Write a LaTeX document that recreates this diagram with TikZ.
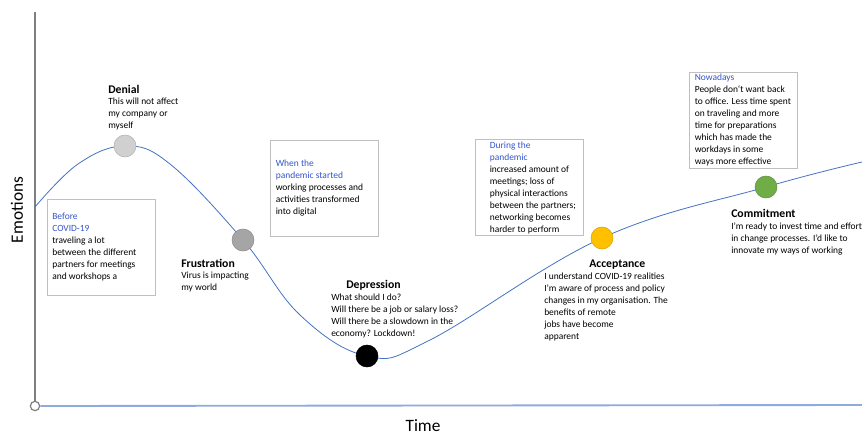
\documentclass[tikz,border=0pt]{standalone}
\usepackage{fontspec}
\setmainfont{Carlito}
\usepackage{tikz}
\usetikzlibrary{positioning}
\definecolor{curveblue}{HTML}{4472C4}
\definecolor{axisblue}{HTML}{8FAADC}
\definecolor{axisgray}{HTML}{7F7F7F}
\definecolor{boxgray}{HTML}{BFBFBF}
\definecolor{headblue}{HTML}{3355CC}
\definecolor{denialgray}{HTML}{D0D0D0}
\definecolor{frustgray}{HTML}{A5A5A5}
\definecolor{accyellow}{HTML}{FFC000}
\definecolor{comgreen}{HTML}{70AD47}
\tikzstyle{curve} = [curveblue, line width=0.6pt]

\begin{document}
\begin{tikzpicture}[x=0.75pt, y=-0.75pt,
    stage/.style={circle, minimum size=16.5pt, inner sep=0pt, draw=#1!85!black, line width=0.4pt, fill=#1},
    stagetitle/.style={anchor=west, inner sep=0pt, font=\fontsize{8.8}{10}\selectfont\bfseries},
    stagetext/.style={anchor=west, inner sep=0pt, align=left, font=\fontsize{7.1}{9}\selectfont},
    infobox/.style={draw=boxgray, line width=0.7pt, minimum width=81pt, minimum height=72pt, inner sep=0pt}]
    \clip (0,0) rectangle (862,436);

    \node[circle, draw=axisgray, fill=white, line width=0.9pt, minimum size=7pt, inner sep=0pt] (origin) at (35,406) {};
    \coordinate (ytop) at (35,12);
    \coordinate (xend) at (862,405);
    \draw[axisgray, line width=1.1pt] (origin) -- (ytop);
    \draw[axisblue, line width=1.4pt] (origin) -- (xend);
    \node[rotate=90, font=\fontsize{13}{15}\selectfont] (emotions) at (17,210) {Emotions};
    \node[inner sep=0pt, font=\fontsize{13}{15}\selectfont] (time) at (423,426) {Time};

    \draw[curve] plot[smooth, tension=0.65] coordinates {(35,207) (78,164) (125,146) (170,164) (243,240) (300,315) (367,356) (430,340) (602,238) (766,187) (862,162)};

    \node[stage=denialgray] (denial) at (125,146) {};
    \node[stage=frustgray] (frustration) at (243,240) {};
    \node[stage=black] (depression) at (367,356) {};
    \node[stage=accyellow] (acceptance) at (602,238) {};
    \node[stage=comgreen] (commitment) at (766,187) {};

    \node[stagetitle] (denialhead) at (108,89) {Denial};
    \node[stagetext] (denialtext) at (108,114) {This will not affect\\my company or\\myself};
    \node[stagetitle] (frusthead) at (181,263) {Frustration};
    \node[stagetext] (frusttext) at (181,282) {Virus is impacting\\my world};
    \node[stagetitle] (dephead) at (346,285) {Depression};
    \node[stagetext] (deptext) at (331,316) {What should I do?\\Will there be a job or salary loss?\\Will there be a slowdown in the\\economy? Lockdown!};
    \node[stagetitle] (acchead) at (589,265) {Acceptance};
    \node[stagetext] (acctext) at (544,307) {I understand COVID-19 realities\\I'm aware of process and policy\\changes in my organisation. The\\benefits of remote\\jobs have become\\apparent};
    \node[stagetitle] (comhead) at (731,213) {Commitment};
    \node[stagetext] (comtext) at (731,239) {I'm ready to invest time and effort\\in change processes. I'd like to\\innovate my ways of working};

    \node[infobox] (before) at (101.5,247.5) {};
    \node[stagetext, right=3.75pt of before.west] (beforetext) {\textcolor{headblue}{Before}\\\textcolor{headblue}{COVID-19}\\traveling a lot\\between the different\\partners for meetings\\and workshops a};
    \node[infobox] (started) at (324,188) {};
    \node[stagetext, right=4.5pt of started.west] (startedtext) {\textcolor{headblue}{When the}\\\textcolor{headblue}{pandemic started}\\working processes and\\activities transformed\\into digital};
    \node[infobox] (during) at (529,187.5) {};
    \node[stagetext, right=11.25pt of during.west] (duringtext) {\textcolor{headblue}{During the}\\\textcolor{headblue}{pandemic}\\increased amount of\\meetings; loss of\\physical interactions\\between the partners;\\networking becomes\\harder to perform};
    \node[infobox] (nowadays) at (743,120) {};
    \node[stagetext, right=4.5pt of nowadays.west] (nowadaystext) {\textcolor{headblue}{Nowadays}\\People don`t want back\\to office. Less time spent\\on traveling and more\\time for preparations\\which has made the\\workdays in some\\ways more effective};
\end{tikzpicture}
\end{document}
